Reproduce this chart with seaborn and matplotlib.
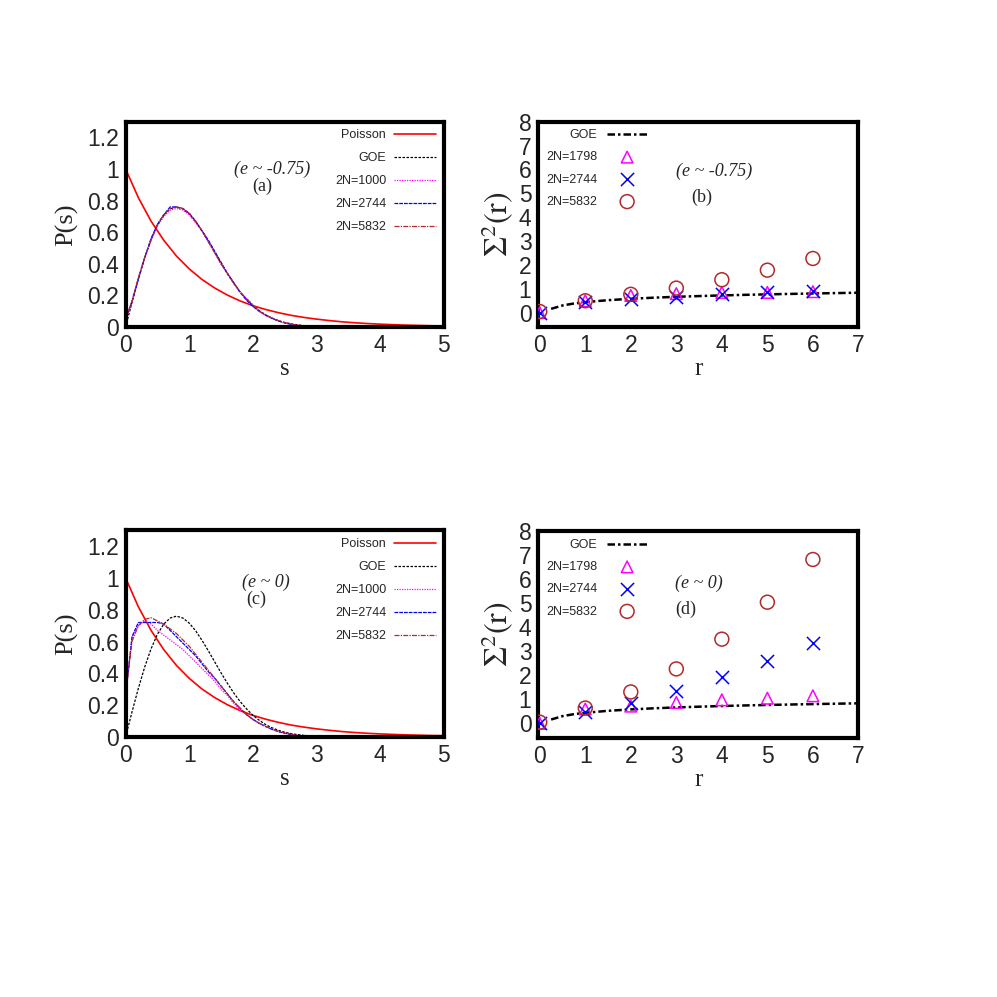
import pandas as pd
import seaborn as sns
import matplotlib.pyplot as plt

sns.set_style("white")
plt.rcParams['font.family'] = ['Liberation Sans', 'DejaVu Sans']
plt.rcParams['mathtext.fontset'] = 'stix'

# ---- P(s) panels: spacing distributions ----
s_poisson = [0.0, 0.2, 0.4, 0.6, 0.8, 1.0, 1.2, 1.4, 1.6, 1.8, 2.0, 2.2, 2.4,
             2.6, 2.8, 3.0, 3.2, 3.4, 3.6, 3.8, 4.0, 4.2, 4.4, 4.6, 4.8, 5.0]
p_poisson = [1.000, 0.819, 0.670, 0.549, 0.449, 0.368, 0.301, 0.247, 0.202,
             0.165, 0.135, 0.111, 0.091, 0.074, 0.061, 0.050, 0.041, 0.033,
             0.027, 0.022, 0.018, 0.015, 0.012, 0.010, 0.008, 0.007]

s_goe = [0.0, 0.1, 0.2, 0.3, 0.4, 0.5, 0.6, 0.7, 0.8, 0.9, 1.0, 1.1, 1.2, 1.3,
         1.4, 1.5, 1.6, 1.7, 1.8, 1.9, 2.0, 2.1, 2.2, 2.3, 2.4, 2.5, 2.6, 2.7,
         2.8, 2.9, 3.0]
p_goe = [0.0, 0.156, 0.305, 0.439, 0.554, 0.646, 0.710, 0.748, 0.760, 0.748,
         0.716, 0.668, 0.608, 0.542, 0.472, 0.403, 0.337, 0.276, 0.222, 0.176,
         0.136, 0.104, 0.077, 0.057, 0.041, 0.029, 0.020, 0.014, 0.009, 0.006,
         0.004]

s_num = [0.0, 0.1, 0.2, 0.3, 0.4, 0.5, 0.6, 0.7, 0.8, 0.9, 1.0, 1.1, 1.2, 1.3,
         1.4, 1.5, 1.6, 1.7, 1.8, 1.9, 2.0, 2.1, 2.2, 2.3, 2.4, 2.5, 2.6, 2.7,
         2.8, 2.9]

# panel (a), e ~ -0.75
pa_1000 = [0.04, 0.17, 0.31, 0.44, 0.55, 0.64, 0.70, 0.74, 0.75, 0.74, 0.71,
           0.66, 0.61, 0.54, 0.47, 0.40, 0.34, 0.28, 0.22, 0.18, 0.14, 0.10,
           0.075, 0.055, 0.040, 0.028, 0.018, 0.011, 0.006, 0.002]
pa_2744 = [0.05, 0.16, 0.30, 0.44, 0.56, 0.65, 0.71, 0.76, 0.76, 0.75, 0.72,
           0.67, 0.61, 0.55, 0.48, 0.41, 0.34, 0.28, 0.22, 0.17, 0.13, 0.10,
           0.075, 0.055, 0.038, 0.026, 0.017, 0.010, 0.005, 0.002]
pa_5832 = [0.05, 0.16, 0.31, 0.44, 0.55, 0.65, 0.71, 0.75, 0.76, 0.75, 0.72,
           0.67, 0.61, 0.54, 0.47, 0.40, 0.34, 0.28, 0.22, 0.18, 0.14, 0.10,
           0.077, 0.056, 0.040, 0.027, 0.018, 0.011, 0.006, 0.003]

# panel (c), e ~ 0
pc_1000 = [0.28, 0.62, 0.70, 0.73, 0.71, 0.67, 0.64, 0.61, 0.58, 0.55, 0.51,
           0.47, 0.43, 0.39, 0.35, 0.30, 0.26, 0.21, 0.17, 0.14, 0.11, 0.085,
           0.065, 0.048, 0.034, 0.024, 0.015, 0.009, 0.004, 0.002]
pc_2744 = [0.25, 0.63, 0.72, 0.72, 0.72, 0.72, 0.71, 0.67, 0.63, 0.59, 0.55,
           0.51, 0.46, 0.41, 0.37, 0.32, 0.27, 0.22, 0.18, 0.14, 0.11, 0.085,
           0.065, 0.047, 0.033, 0.022, 0.014, 0.008, 0.004, 0.001]
pc_5832 = [0.27, 0.60, 0.70, 0.74, 0.75, 0.73, 0.71, 0.68, 0.65, 0.61, 0.57,
           0.52, 0.47, 0.42, 0.37, 0.32, 0.27, 0.22, 0.18, 0.14, 0.11, 0.085,
           0.066, 0.048, 0.034, 0.023, 0.015, 0.009, 0.004, 0.002]

# ---- Sigma^2(r) panels: number variance ----
r_goe = [0.25, 0.5, 0.75, 1.0, 1.5, 2.0, 2.5, 3.0, 3.5, 4.0, 4.5, 5.0, 5.5,
         6.0, 6.5, 7.0]
sig_goe = [0.161, 0.302, 0.384, 0.442, 0.524, 0.582, 0.628, 0.665, 0.696,
           0.723, 0.747, 0.768, 0.786, 0.804, 0.820, 0.836]

r_pts = [0, 1, 2, 3, 4, 5, 6]
# panel (b)
sb_1798 = [0.0, 0.50, 0.72, 0.80, 0.85, 0.85, 0.88]
sb_2744 = [0.0, 0.45, 0.58, 0.66, 0.78, 0.85, 0.92]
sb_5832 = [0.05, 0.50, 0.77, 1.03, 1.38, 1.78, 2.27]
# panel (d)
sd_1798 = [0.0, 0.60, 0.72, 0.87, 0.98, 1.05, 1.15]
sd_2744 = [0.0, 0.47, 0.87, 1.36, 1.94, 2.60, 3.37]
sd_5832 = [0.05, 0.64, 1.31, 2.27, 3.51, 5.05, 6.83]

brown = '#b22a2a'


def frame(ax):
    for sp in ax.spines.values():
        sp.set_visible(True)
        sp.set_linewidth(3)
        sp.set_color('black')
    ax.tick_params(length=0, labelsize=16.5, pad=5)


def ps_panel(ax, num, tag, label):
    d_p = pd.DataFrame({'s': s_poisson, 'P': p_poisson})
    d_g = pd.DataFrame({'s': s_goe, 'P': p_goe})
    sns.lineplot(data=d_p, x='s', y='P', ax=ax, color='red', lw=1.2,
                 label='Poisson')
    sns.lineplot(data=d_g, x='s', y='P', ax=ax, color='black', lw=0.9,
                 linestyle=(0, (2, 1.2)), label='GOE')
    styles = [('2N=1000', 'magenta', (0, (1, 1))),
              ('2N=2744', 'blue', (0, (3, 0.8))),
              ('2N=5832', brown, (0, (4, 1, 1, 1)))]
    for (name, col, ls), vals in zip(styles, num):
        d = pd.DataFrame({'s': s_num, 'P': vals})
        sns.lineplot(data=d, x='s', y='P', ax=ax, color=col, lw=0.9,
                     linestyle=ls, label=name)
    ax.set_xlim(0, 5)
    ax.set_ylim(0, 1.3)
    ax.set_xticks([0, 1, 2, 3, 4, 5])
    ax.set_xticklabels(['0', '1', '2', '3', '4', '5'])
    ax.set_yticks([0, 0.2, 0.4, 0.6, 0.8, 1.0, 1.2])
    ax.set_yticklabels(['0', '0.2', '0.4', '0.6', '0.8', '1', '1.2'])
    frame(ax)
    ax.set_xlabel('s', family='Liberation Serif', fontsize=18, labelpad=1)
    ax.set_ylabel('P(s)', family='Liberation Serif', fontsize=19, labelpad=6)
    ax.text(tag[0], tag[1], label[0], transform=ax.transAxes, ha='center',
            va='center', family='Liberation Serif', style='italic', fontsize=13)
    ax.text(tag[0] - 0.03, tag[1] - 0.085, label[1], transform=ax.transAxes,
            ha='center', va='center', family='Liberation Serif', fontsize=13)
    ax.legend(loc='upper right', markerfirst=False, frameon=False, fontsize=9,
              handlelength=3.4, handletextpad=0.6, labelspacing=0.88,
              borderaxespad=0.2)


def sig_panel(ax, pts, tag, label):
    d_g = pd.DataFrame({'r': r_goe, 'S': sig_goe})
    sns.lineplot(data=d_g, x='r', y='S', ax=ax, color='black', lw=1.8,
                 linestyle=(0, (3, 1.2, 1, 1.2)), label='GOE')
    d1 = pd.DataFrame({'r': r_pts, 'S': pts[0]})
    d2 = pd.DataFrame({'r': r_pts, 'S': pts[1]})
    d3 = pd.DataFrame({'r': r_pts, 'S': pts[2]})
    sns.scatterplot(data=d1, x='r', y='S', ax=ax, marker='^', s=70,
                    facecolor='none', edgecolor='magenta', linewidth=1.1,
                    label='2N=1798', zorder=3)
    sns.scatterplot(data=d2, x='r', y='S', ax=ax, marker='x', s=90,
                    color='blue', linewidth=1.1, label='2N=2744', zorder=3)
    sns.scatterplot(data=d3, x='r', y='S', ax=ax, marker='o', s=100,
                    facecolor='none', edgecolor=brown, linewidth=1.1,
                    label='2N=5832', zorder=3)
    ax.set_xlim(-0.03, 7)
    ax.set_ylim(-0.6, 8)
    ax.set_xticks(range(8))
    ax.set_yticks(range(9))
    frame(ax)
    ax.set_xlabel('r', family='Liberation Serif', fontsize=18, labelpad=1)
    ax.set_ylabel(r'$\Sigma^2\mathrm{(r)}$', fontsize=23, labelpad=2)
    ax.text(tag[0], tag[1], label[0], transform=ax.transAxes, ha='center',
            va='center', family='Liberation Serif', style='italic', fontsize=13)
    ax.text(tag[0] - 0.04, tag[1] - 0.13, label[1], transform=ax.transAxes,
            ha='center', va='center', family='Liberation Serif', fontsize=13)
    ax.legend(loc='upper left', markerfirst=False, frameon=False, fontsize=9,
              handlelength=3.2, handletextpad=0.8, labelspacing=0.82,
              borderaxespad=0.2)


fig = plt.figure(figsize=(9.97, 9.97), dpi=100)
ax_a = fig.add_axes([0.126, 0.672, 0.319, 0.206])
ax_b = fig.add_axes([0.540, 0.672, 0.321, 0.206])
ax_c = fig.add_axes([0.126, 0.261, 0.319, 0.207])
ax_d = fig.add_axes([0.540, 0.260, 0.321, 0.207])

ps_panel(ax_a, [pa_1000, pa_2744, pa_5832], (0.46, 0.77), ('(e ~ -0.75)', '(a)'))
sig_panel(ax_b, [sb_1798, sb_2744, sb_5832], (0.55, 0.76), ('(e ~ -0.75)', '(b)'))
ps_panel(ax_c, [pc_1000, pc_2744, pc_5832], (0.44, 0.75), ('(e ~ 0)', '(c)'))
sig_panel(ax_d, [sd_1798, sd_2744, sd_5832], (0.50, 0.75), ('(e ~ 0)', '(d)'))

fig.savefig('out.png', dpi=100)
